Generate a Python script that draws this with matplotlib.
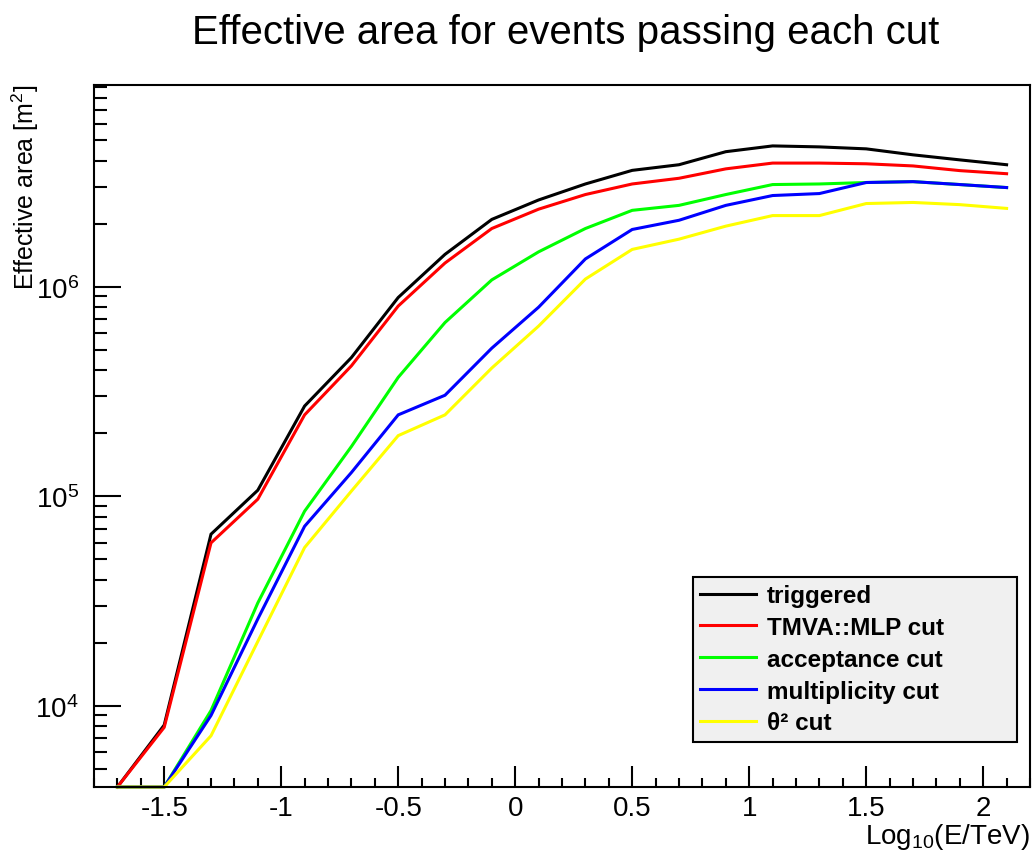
"""
Effective area for events passing each cut (ROOT-style log plot)
"""

import numpy as np
import matplotlib.pyplot as plt
from matplotlib.ticker import MultipleLocator, LogLocator, LogFormatterMathtext, NullFormatter

plt.rcParams['font.family'] = ['Liberation Sans', 'DejaVu Sans']
plt.rcParams['mathtext.fontset'] = 'custom'
plt.rcParams['mathtext.rm'] = 'Liberation Sans'
plt.rcParams['mathtext.it'] = 'Liberation Sans:italic'
plt.rcParams['mathtext.bf'] = 'Liberation Sans:bold'

# bin centres in log10(E/TeV)
LOG_E = [-1.7, -1.5, -1.3, -1.1, -0.9, -0.7, -0.5, -0.3, -0.1, 0.1,
         0.3, 0.5, 0.7, 0.9, 1.1, 1.3, 1.5, 1.7, 1.9, 2.1]

# effective areas [m^2] (0 = empty bin, drawn at the axis floor)
TRIGGERED = [0, 8.1e3, 6.6e4, 1.07e5, 2.7e5, 4.6e5, 8.9e5, 1.43e6, 2.1e6, 2.6e6,
             3.1e6, 3.6e6, 3.83e6, 4.42e6, 4.71e6, 4.66e6, 4.56e6, 4.27e6, 4.04e6, 3.83e6]
MLP_CUT = [0, 7.9e3, 6.0e4, 9.7e4, 2.45e5, 4.2e5, 8.1e5, 1.3e6, 1.9e6, 2.35e6,
           2.76e6, 3.1e6, 3.3e6, 3.66e6, 3.9e6, 3.9e6, 3.87e6, 3.78e6, 3.59e6, 3.47e6]
ACCEPTANCE_CUT = [0, 0, 9.5e3, 3.1e4, 8.5e4, 1.73e5, 3.7e5, 6.76e5, 1.08e6, 1.47e6,
                  1.9e6, 2.32e6, 2.45e6, 2.76e6, 3.08e6, 3.1e6, 3.15e6, 3.18e6, 3.08e6, 2.98e6]
MULTIPLICITY_CUT = [0, 0, 9.0e3, 2.6e4, 7.2e4, 1.3e5, 2.45e5, 3.04e5, 5.1e5, 8.0e5,
                    1.36e6, 1.88e6, 2.08e6, 2.45e6, 2.73e6, 2.79e6, 3.15e6, 3.18e6, 3.08e6, 2.98e6]
THETA2_CUT = [0, 0, 7.2e3, 2.03e4, 5.7e4, 1.06e5, 1.95e5, 2.45e5, 4.1e5, 6.5e5,
              1.09e6, 1.51e6, 1.69e6, 1.95e6, 2.19e6, 2.19e6, 2.5e6, 2.53e6, 2.47e6, 2.37e6]

LABELS = ['triggered', 'TMVA::MLP cut', 'acceptance cut', 'multiplicity cut', 'θ² cut']
COLORS = ['#000000', '#ff0000', '#00ff00', '#0000ff', '#ffff00']

XMIN, XMAX = -1.8, 2.2
YMIN, YMAX = 4100, 9.2e6

W, H = 1035, 854
fig = plt.figure(figsize=(W / 100, H / 100), dpi=100)
ax = fig.add_axes([94 / W, 1 - 788 / H, (1030 - 94) / W, (788 - 86) / H])

series = [TRIGGERED, MLP_CUT, ACCEPTANCE_CUT, MULTIPLICITY_CUT, THETA2_CUT]
for vals, lab, col in zip(series, LABELS, COLORS):
    y = np.clip(np.array(vals, dtype=float), YMIN, None)
    ax.plot(LOG_E, y, color=col, lw=2.2, label=lab, clip_on=False, solid_joinstyle='miter')

ax.set_yscale('log')
ax.set_xlim(XMIN, XMAX)
ax.set_ylim(YMIN, YMAX)

ax.xaxis.set_major_locator(MultipleLocator(0.5))
ax.xaxis.set_minor_locator(MultipleLocator(0.1))
ax.xaxis.set_major_formatter(plt.FuncFormatter(lambda v, p: f'{v:g}'))
ax.yaxis.set_major_locator(LogLocator(base=10))
ax.yaxis.set_minor_locator(LogLocator(base=10, subs=np.arange(2, 10)))
ax.yaxis.set_major_formatter(LogFormatterMathtext())
ax.yaxis.set_minor_formatter(NullFormatter())

ax.tick_params(axis='both', which='both', direction='in', top=False, right=False,
               width=1.5, labelsize=20)
ax.tick_params(axis='x', which='major', length=15, pad=6)
ax.tick_params(axis='x', which='minor', length=6.5)
ax.tick_params(axis='y', which='major', length=19.5, pad=11)
ax.tick_params(axis='y', which='minor', length=9.7)
for sp in ax.spines.values():
    sp.set_linewidth(1.5)

fig.text(566 / W, 1 - 44 / H, 'Effective area for events passing each cut',
         ha='center', va='baseline', fontsize=29)
fig.text(25 / W, 1 - 85 / H, 'Effective area [m$^{2}$]', rotation=90,
         ha='center', va='top', fontsize=18)
fig.text(1030 / W, 1 - 844 / H, 'Log$_{10}$(E/TeV)', ha='right', va='baseline',
         fontsize=20)

leg = ax.legend(loc='upper left', bbox_to_anchor=(0.640, 0.0712, 0.346, 0.228),
                mode='expand', frameon=True, fancybox=False, framealpha=1,
                edgecolor='black', facecolor='#f0f0f0', borderaxespad=0,
                prop={'weight': 'bold', 'size': 17.5}, handlelength=2.3,
                handletextpad=0.45, labelspacing=0.36, borderpad=0.3)
leg.get_frame().set_linewidth(1.5)

fig.savefig('out.png', dpi=100)
